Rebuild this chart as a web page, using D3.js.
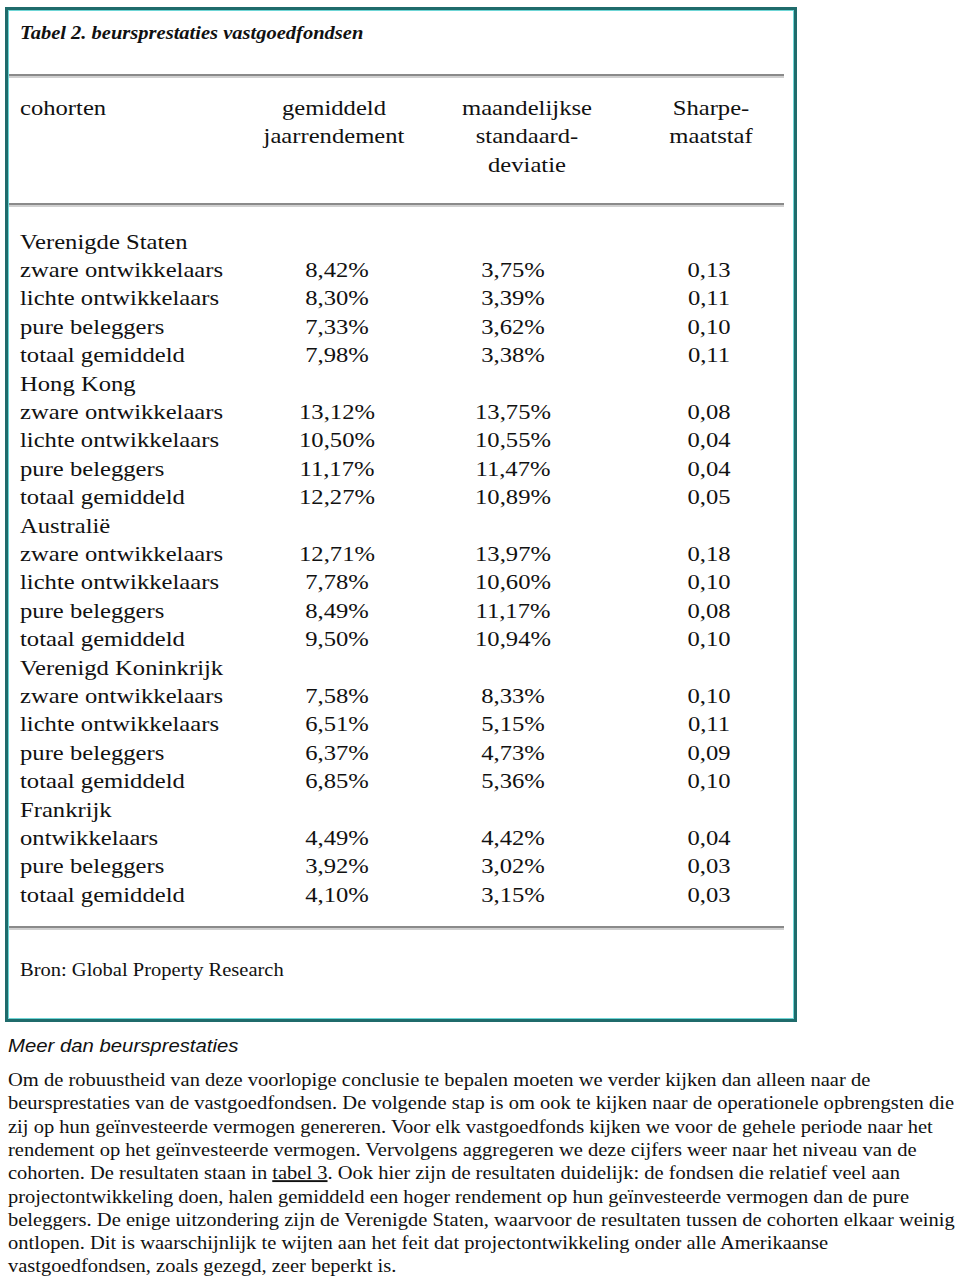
<!DOCTYPE html>
<html>
<head>
<meta charset="utf-8">
<title>Tabel 2. beursprestaties vastgoedfondsen</title>
<script src="https://cdn.jsdelivr.net/npm/d3@7"></script>
<style type="text/css">
	body{ margin:0; background:#fff; }
	#board{ width:960px; height:1284px; }
	text{ font-family:"Liberation Serif","Times New Roman",serif; fill:#111; }
</style>
</head>
<body>
<div id="board"></div>
<script>
var title = "Tabel 2. beursprestaties vastgoedfondsen";
var headers = [
	["cohorten"],
	["gemiddeld","jaarrendement"],
	["maandelijkse","standaard-","deviatie"],
	["Sharpe-","maatstaf"]
];
var regions = ["Verenigde Staten","Hong Kong","Australië","Verenigd Koninkrijk","Frankrijk"];
var cohorts = [
	["zware ontwikkelaars","lichte ontwikkelaars","pure beleggers","totaal gemiddeld"],
	["zware ontwikkelaars","lichte ontwikkelaars","pure beleggers","totaal gemiddeld"],
	["zware ontwikkelaars","lichte ontwikkelaars","pure beleggers","totaal gemiddeld"],
	["zware ontwikkelaars","lichte ontwikkelaars","pure beleggers","totaal gemiddeld"],
	["ontwikkelaars","pure beleggers","totaal gemiddeld"]
];
var rendement = [8.42,8.30,7.33,7.98, 13.12,10.50,11.17,12.27, 12.71,7.78,8.49,9.50, 7.58,6.51,6.37,6.85, 4.49,3.92,4.10];
var stdev     = [3.75,3.39,3.62,3.38, 13.75,10.55,11.47,10.89, 13.97,10.60,11.17,10.94, 8.33,5.15,4.73,5.36, 4.42,3.02,3.15];
var sharpe    = [0.13,0.11,0.10,0.11, 0.08,0.04,0.04,0.05, 0.18,0.10,0.08,0.10, 0.10,0.11,0.09,0.10, 0.04,0.03,0.03];
var source = "Bron: Global Property Research";
var subhead = "Meer dan beursprestaties";
var paragraph = [
	"Om de robuustheid van deze voorlopige conclusie te bepalen moeten we verder kijken dan alleen naar de",
	"beursprestaties van de vastgoedfondsen. De volgende stap is om ook te kijken naar de operationele opbrengsten die",
	"zij op hun geïnvesteerde vermogen genereren. Voor elk vastgoedfonds kijken we voor de gehele periode naar het",
	"rendement op het geïnvesteerde vermogen. Vervolgens aggregeren we deze cijfers weer naar het niveau van de",
	"cohorten. De resultaten staan in |tabel 3|. Ook hier zijn de resultaten duidelijk: de fondsen die relatief veel aan",
	"projectontwikkeling doen, halen gemiddeld een hoger rendement op hun geïnvesteerde vermogen dan de pure",
	"beleggers. De enige uitzondering zijn de Verenigde Staten, waarvoor de resultaten tussen de cohorten elkaar weinig",
	"ontlopen. Dit is waarschijnlijk te wijten aan het feit dat projectontwikkeling onder alle Amerikaanse",
	"vastgoedfondsen, zoals gezegd, zeer beperkt is."
];

var nl = d3.formatLocale({ decimal:",", thousands:".", grouping:[3], currency:["€",""] });
var fmt = nl.format(".2f");

// flatten into table rows
var rows = [];
var k = 0;
regions.forEach(function(r, i){
	rows.push({ label:r });
	cohorts[i].forEach(function(c){
		rows.push({ label:c, vals:[fmt(rendement[k])+"%", fmt(stdev[k])+"%", fmt(sharpe[k])] });
		k++;
	});
});

var W = 960, H = 1284;
var svg = d3.select('#board').append('svg').attr('width',W).attr('height',H);

// the scan is a bit wider than the font, so stretch text horizontally
function place(sel, x, y, sx){
	sel.attr('transform', 'translate(' + x + ',' + y + ') scale(' + sx + ',1)');
	return sel;
}

// box
var box = { x:5, y:7, w:792, h:1015 };
svg.append('rect').attr('x',box.x+1.5).attr('y',box.y+1.5).attr('width',box.w-3).attr('height',box.h-3)
	.attr('fill','none').attr('stroke','#1f6b6b').attr('stroke-width',3);
svg.append('rect').attr('x',box.x+3.5).attr('y',box.y+3.5).attr('width',box.w-7).attr('height',box.h-7)
	.attr('fill','none').attr('stroke','#6fd6d6').attr('stroke-width',1);

function rule(y){
	svg.append('line').attr('x1',9).attr('x2',784).attr('y1',y).attr('y2',y)
		.attr('stroke','#8a8a8a').attr('stroke-width',2);
	svg.append('line').attr('x1',9).attr('x2',784).attr('y1',y+2).attr('y2',y+2)
		.attr('stroke','#d0d0d0').attr('stroke-width',2);
}
rule(75); rule(204); rule(927);

place(svg.append('text'), 20, 39, 1.08)
	.style('font-size','19px').style('font-weight','bold').style('font-style','italic')
	.text(title);

// columns
var xh = d3.scaleOrdinal().domain([0,1,2,3]).range([20,334,527,711]);
var x = d3.scaleOrdinal().domain([0,1,2,3]).range([20,337,513,709]);
var y = d3.scaleBand().domain(d3.range(rows.length)).range([227, 908.5]).paddingInner(0);
var sx = 1.12;

var hg = svg.append('g').style('font-size','22px');
headers.forEach(function(lines, c){
	hg.selectAll('.h'+c).data(lines).enter().append('text')
		.attr('transform', function(d,i){ return 'translate(' + xh(c) + ',' + (115 + i*28.4) + ') scale(' + sx + ',1)'; })
		.attr('text-anchor', c == 0 ? 'start' : 'middle')
		.text(function(d){ return d; });
});

var g = svg.append('g').style('font-size','22px');
var rg = g.selectAll('.row').data(rows).enter().append('g')
	.attr('class','row')
	.attr('transform', function(d,i){ return 'translate(0,' + (y(i) + y.bandwidth()/2 + 7.5) + ')'; });
rg.append('text')
	.attr('transform', 'translate(' + x(0) + ',0) scale(' + sx + ',1)')
	.text(function(d){ return d.label; });
rg.filter(function(d){ return d.vals; }).selectAll('.v')
	.data(function(d){ return d.vals; }).enter().append('text')
	.attr('class','v')
	.attr('transform', function(d,i){ return 'translate(' + x(i+1) + ',0) scale(' + sx + ',1)'; })
	.attr('text-anchor','middle')
	.text(function(d){ return d; });

place(svg.append('text'), 20, 976, 1.08).style('font-size','19px').text(source);

// text below the table
place(svg.append('text'), 8, 1052, 1.13)
	.style('font-family','"Liberation Sans",Arial,sans-serif').style('font-style','italic').style('font-size','18px')
	.text(subhead);

var pg = svg.append('g').style('font-size','19px');
pg.selectAll('text').data(paragraph).enter().append('text')
	.attr('transform', function(d,i){ return 'translate(8,' + (1086 + i*23.3) + ') scale(1.08,1)'; })
	.each(function(d){
		var parts = d.split('|');
		var t = d3.select(this);
		parts.forEach(function(p, j){
			var s = t.append('tspan').text(p);
			if(j == 1) s.style('text-decoration','underline');
		});
	});
</script>
</body>
</html>
